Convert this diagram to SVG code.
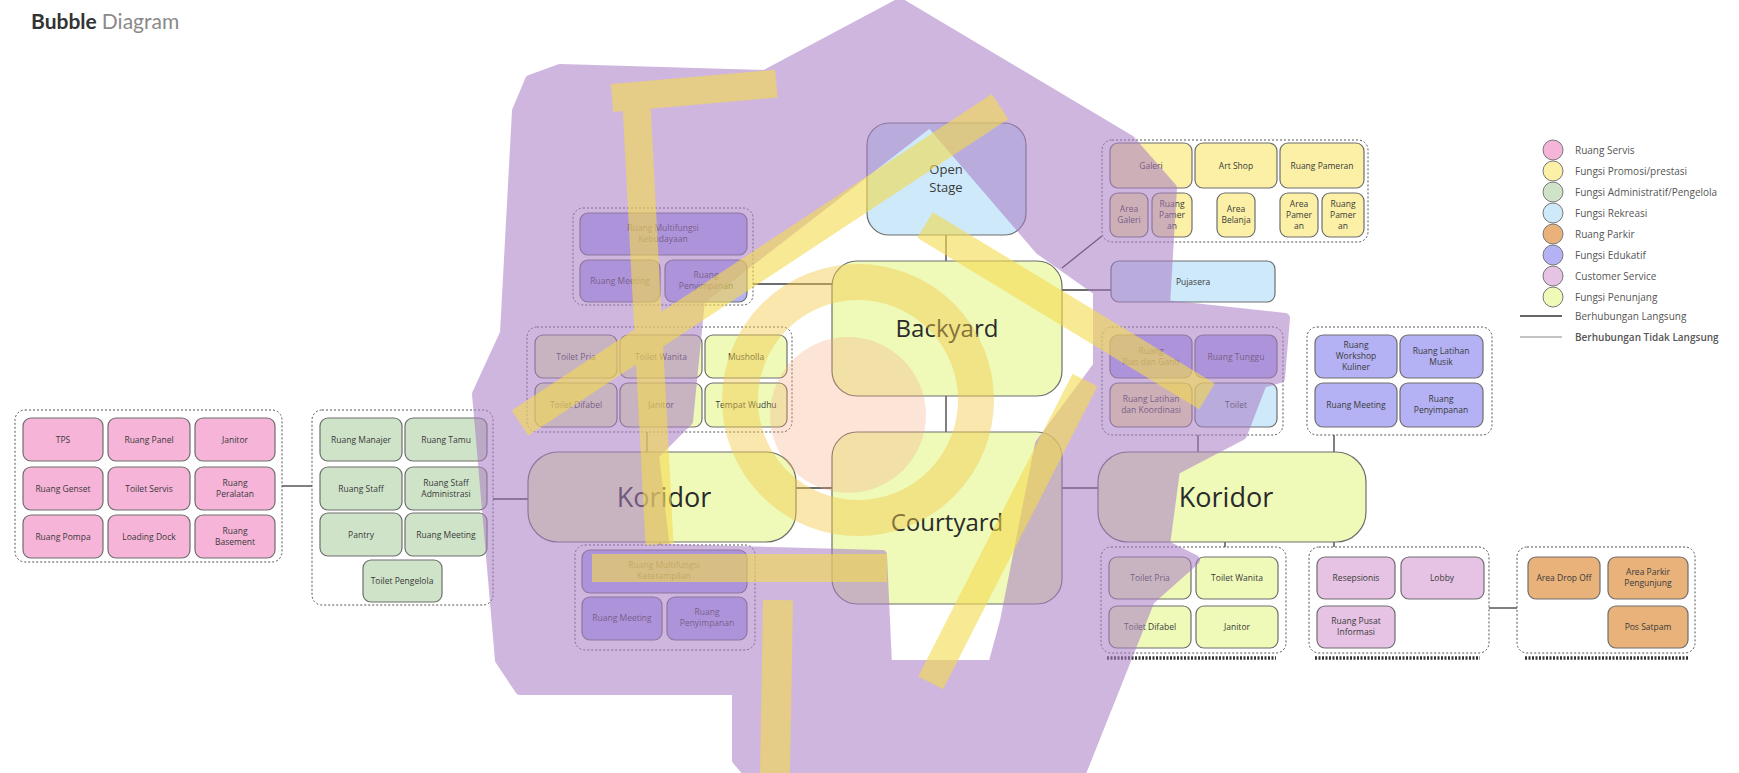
<svg xmlns="http://www.w3.org/2000/svg" width="1739" height="773" viewBox="0 0 1739 773">
<style>
text{font-family:"Open Sans","Liberation Sans",sans-serif;fill:#3a3a3a;text-anchor:middle}
.s{font-size:8.5px}
.big{font-size:27px;fill:#2a2a2a}
.mid{font-size:24px;fill:#2a2a2a}
.b{stroke:#6e6e6e;stroke-width:1.2}
.grp{fill:none;stroke:#555;stroke-width:1;stroke-dasharray:2 2}
.pk{fill:#f6b4d8}.ye{fill:#fbf0a6}.gr{fill:#cfe3c8}.bl{fill:#cde9fa}.or{fill:#e8b27a}
.vi{fill:#b4b2f4}.cs{fill:#e6c3e5}.pe{fill:#effab9}
.con{stroke:#3c3c3c;stroke-width:1.3;fill:none}
.dot{stroke:#333;stroke-width:3.5;stroke-dasharray:2 1.5}
.lg{font-size:10px;fill:#555;text-anchor:start}
.lc{stroke:#888;stroke-width:1}
</style>

<g id="title">
<text x="31" y="29" style="font-family:Lato,'Open Sans',sans-serif;font-size:21px;font-weight:700;fill:#333;text-anchor:start">Bubble <tspan style="font-weight:400;fill:#8a8a8a">Diagram</tspan></text>
</g>

<g id="connectors">
<line class="con" x1="282" y1="486" x2="312" y2="486"/>
<line class="con" x1="493" y1="499" x2="528" y2="499"/>
<line class="con" x1="753" y1="284" x2="832" y2="284"/>
<line class="con" x1="647" y1="432" x2="647" y2="452"/>
<line class="con" x1="660" y1="542" x2="660" y2="545"/>
<line class="con" x1="946" y1="235" x2="946" y2="261"/>
<line class="con" x1="946" y1="396" x2="946" y2="432"/>
<line class="con" x1="796" y1="488" x2="832" y2="488"/>
<line class="con" x1="1062" y1="488" x2="1098" y2="488"/>
<line class="con" x1="1062" y1="268" x2="1102" y2="236"/>
<line class="con" x1="1062" y1="290" x2="1111" y2="290"/>
<line class="con" x1="1198" y1="435" x2="1198" y2="452"/>
<line class="con" x1="1334" y1="435" x2="1334" y2="452"/>
<line class="con" x1="1225" y1="542" x2="1225" y2="547"/>
<line class="con" x1="1334" y1="542" x2="1334" y2="547"/>
<line class="con" x1="1489" y1="608" x2="1517" y2="608"/>
</g>

<g id="servis">
<rect class="grp" x="15" y="410" width="267" height="152" rx="10"/>
<rect class="b pk" x="23" y="418" width="80" height="43" rx="8"/><text class="s" x="63" y="443">TPS</text>
<rect class="b pk" x="108" y="418" width="82" height="43" rx="8"/><text class="s" x="149" y="443">Ruang Panel</text>
<rect class="b pk" x="195" y="418" width="80" height="43" rx="8"/><text class="s" x="235" y="443">Janitor</text>
<rect class="b pk" x="23" y="467" width="80" height="43" rx="8"/><text class="s" x="63" y="492">Ruang Genset</text>
<rect class="b pk" x="108" y="467" width="82" height="43" rx="8"/><text class="s" x="149" y="492">Toilet Servis</text>
<rect class="b pk" x="195" y="467" width="80" height="43" rx="8"/><text class="s" x="235" y="486">Ruang</text><text class="s" x="235" y="497">Peralatan</text>
<rect class="b pk" x="23" y="515" width="80" height="43" rx="8"/><text class="s" x="63" y="540">Ruang Pompa</text>
<rect class="b pk" x="108" y="515" width="82" height="43" rx="8"/><text class="s" x="149" y="540">Loading Dock</text>
<rect class="b pk" x="195" y="515" width="80" height="43" rx="8"/><text class="s" x="235" y="534">Ruang</text><text class="s" x="235" y="545">Basement</text>
</g>

<g id="pengelola">
<rect class="grp" x="312" y="410" width="181" height="195" rx="10"/>
<rect class="b gr" x="320" y="418" width="82" height="43" rx="8"/><text class="s" x="361" y="443">Ruang Manajer</text>
<rect class="b gr" x="405" y="418" width="82" height="43" rx="8"/><text class="s" x="446" y="443">Ruang Tamu</text>
<rect class="b gr" x="320" y="467" width="82" height="43" rx="8"/><text class="s" x="361" y="492">Ruang Staff</text>
<rect class="b gr" x="405" y="467" width="82" height="43" rx="8"/><text class="s" x="446" y="486">Ruang Staff</text><text class="s" x="446" y="497">Administrasi</text>
<rect class="b gr" x="320" y="513" width="82" height="43" rx="8"/><text class="s" x="361" y="538">Pantry</text>
<rect class="b gr" x="405" y="513" width="82" height="43" rx="8"/><text class="s" x="446" y="538">Ruang Meeting</text>
<rect class="b gr" x="363" y="560" width="79" height="42" rx="8"/><text class="s" x="402" y="584">Toilet Pengelola</text>
</g>

<g id="koridor-kiri">
<rect class="b pe" x="528" y="452" width="268" height="90" rx="30"/><text class="big" x="664" y="507">Koridor</text>
</g>

<g id="multifungsi-kebudayaan">
<rect class="grp" x="573" y="208" width="180" height="97" rx="10"/>
<rect class="b vi" x="580" y="213" width="167" height="42" rx="8"/><text class="s" x="663" y="231">Ruang Multifungsi</text><text class="s" x="663" y="242">Kebudayaan</text>
<rect class="b vi" x="580" y="260" width="80" height="42" rx="8"/><text class="s" x="620" y="284">Ruang Meeting</text>
<rect class="b vi" x="665" y="260" width="82" height="42" rx="8"/><text class="s" x="706" y="278">Ruang</text><text class="s" x="706" y="289">Penyimpanan</text>
</g>

<g id="toilet-kiri">
<rect class="grp" x="527" y="327" width="265" height="105" rx="10"/>
<rect class="b pe" x="535" y="335" width="82" height="43" rx="8"/><text class="s" x="576" y="360">Toilet Pria</text>
<rect class="b pe" x="620" y="335" width="82" height="43" rx="8"/><text class="s" x="661" y="360">Toilet Wanita</text>
<rect class="b pe" x="705" y="335" width="82" height="43" rx="8"/><text class="s" x="746" y="360">Musholla</text>
<rect class="b pe" x="535" y="383" width="82" height="44" rx="8"/><text class="s" x="576" y="408">Toilet Difabel</text>
<rect class="b pe" x="620" y="383" width="82" height="44" rx="8"/><text class="s" x="661" y="408">Janitor</text>
<rect class="b pe" x="705" y="383" width="82" height="44" rx="8"/><text class="s" x="746" y="408">Tempat Wudhu</text>
</g>

<g id="multifungsi-keterampilan">
<rect class="grp" x="575" y="545" width="180" height="105" rx="10"/>
<rect class="b vi" x="582" y="550" width="165" height="43" rx="8"/><text class="s" x="664" y="568">Ruang Multifungsi</text><text class="s" x="664" y="579">Keterampilan</text>
<rect class="b vi" x="582" y="597" width="80" height="43" rx="8"/><text class="s" x="622" y="621">Ruang Meeting</text>
<rect class="b vi" x="667" y="597" width="80" height="43" rx="8"/><text class="s" x="707" y="615">Ruang</text><text class="s" x="707" y="626">Penyimpanan</text>
</g>

<g id="open-stage">
<rect class="b bl" x="867" y="123" width="159" height="112" rx="22"/>
<text x="946" y="174" style="font-size:13px">Open</text><text x="946" y="192" style="font-size:13px">Stage</text>
</g>

<g id="backyard">
<rect class="b pe" x="832" y="261" width="230" height="135" rx="25"/><text class="mid" x="947" y="337">Backyard</text>
</g>

<g id="courtyard">
<rect class="b pe" x="832" y="432" width="230" height="172" rx="25"/><text class="mid" x="947" y="531">Courtyard</text>
</g>

<g id="koridor-kanan">
<rect class="b pe" x="1098" y="452" width="268" height="90" rx="30"/><text class="big" x="1226" y="507">Koridor</text>
</g>

<g id="promosi">
<rect class="grp" x="1102" y="140" width="266" height="102" rx="10"/>
<rect class="b ye" x="1110" y="143" width="82" height="45" rx="8"/><text class="s" x="1151" y="169">Galeri</text>
<rect class="b ye" x="1195" y="143" width="82" height="45" rx="8"/><text class="s" x="1236" y="169">Art Shop</text>
<rect class="b ye" x="1280" y="143" width="84" height="45" rx="8"/><text class="s" x="1322" y="169">Ruang Pameran</text>
<rect class="b ye" x="1110" y="193" width="38" height="44" rx="8"/><text class="s" x="1129" y="212">Area</text><text class="s" x="1129" y="223">Galeri</text>
<rect class="b ye" x="1152" y="193" width="40" height="44" rx="8"/><text class="s" x="1172" y="207">Ruang</text><text class="s" x="1172" y="218">Pamer</text><text class="s" x="1172" y="229">an</text>
<rect class="b ye" x="1217" y="193" width="38" height="44" rx="8"/><text class="s" x="1236" y="212">Area</text><text class="s" x="1236" y="223">Belanja</text>
<rect class="b ye" x="1280" y="193" width="38" height="44" rx="8"/><text class="s" x="1299" y="207">Area</text><text class="s" x="1299" y="218">Pamer</text><text class="s" x="1299" y="229">an</text>
<rect class="b ye" x="1322" y="193" width="42" height="44" rx="8"/><text class="s" x="1343" y="207">Ruang</text><text class="s" x="1343" y="218">Pamer</text><text class="s" x="1343" y="229">an</text>
</g>

<g id="pujasera">
<rect class="b bl" x="1111" y="261" width="164" height="41" rx="8"/><text class="s" x="1193" y="285">Pujasera</text>
</g>

<g id="pertunjukan">
<rect class="grp" x="1102" y="327" width="181" height="108" rx="10"/>
<rect class="b vi" x="1110" y="335" width="82" height="43" rx="8"/><text class="s" x="1151" y="354">Ruang</text><text class="s" x="1151" y="365">Rias dan Ganti</text>
<rect class="b vi" x="1195" y="335" width="82" height="43" rx="8"/><text class="s" x="1236" y="360">Ruang Tunggu</text>
<rect class="b ye" x="1110" y="383" width="82" height="44" rx="8"/><text class="s" x="1151" y="402">Ruang Latihan</text><text class="s" x="1151" y="413">dan Koordinasi</text>
<rect class="b bl" x="1195" y="383" width="82" height="44" rx="8"/><text class="s" x="1236" y="408">Toilet</text>
</g>

<g id="edukatif">
<rect class="grp" x="1307" y="327" width="185" height="108" rx="10"/>
<rect class="b vi" x="1315" y="335" width="82" height="43" rx="8"/><text class="s" x="1356" y="348">Ruang</text><text class="s" x="1356" y="359">Workshop</text><text class="s" x="1356" y="370">Kuliner</text>
<rect class="b vi" x="1400" y="335" width="83" height="43" rx="8"/><text class="s" x="1441" y="354">Ruang Latihan</text><text class="s" x="1441" y="365">Musik</text>
<rect class="b vi" x="1315" y="383" width="82" height="44" rx="8"/><text class="s" x="1356" y="408">Ruang Meeting</text>
<rect class="b vi" x="1400" y="383" width="83" height="44" rx="8"/><text class="s" x="1441" y="402">Ruang</text><text class="s" x="1441" y="413">Penyimpanan</text>
</g>

<g id="toilet-kanan">
<rect class="grp" x="1101" y="547" width="185" height="106" rx="10"/>
<rect class="b pe" x="1109" y="557" width="82" height="42" rx="8"/><text class="s" x="1150" y="581">Toilet Pria</text>
<rect class="b pe" x="1196" y="557" width="82" height="42" rx="8"/><text class="s" x="1237" y="581">Toilet Wanita</text>
<rect class="b pe" x="1109" y="606" width="82" height="42" rx="8"/><text class="s" x="1150" y="630">Toilet Difabel</text>
<rect class="b pe" x="1196" y="606" width="82" height="42" rx="8"/><text class="s" x="1237" y="630">Janitor</text>
<line class="dot" x1="1107" y1="658" x2="1276" y2="658"/>
</g>

<g id="customer-service">
<rect class="grp" x="1309" y="547" width="180" height="106" rx="10"/>
<rect class="b cs" x="1317" y="557" width="78" height="42" rx="8"/><text class="s" x="1356" y="581">Resepsionis</text>
<rect class="b cs" x="1401" y="557" width="83" height="42" rx="8"/><text class="s" x="1442" y="581">Lobby</text>
<rect class="b cs" x="1317" y="606" width="78" height="42" rx="8"/><text class="s" x="1356" y="624">Ruang Pusat</text><text class="s" x="1356" y="635">Informasi</text>
<line class="dot" x1="1315" y1="658" x2="1480" y2="658"/>
</g>

<g id="parkir">
<rect class="grp" x="1517" y="547" width="178" height="106" rx="10"/>
<rect class="b or" x="1528" y="557" width="72" height="42" rx="8"/><text class="s" x="1564" y="581">Area Drop Off</text>
<rect class="b or" x="1608" y="557" width="80" height="42" rx="8"/><text class="s" x="1648" y="575">Area Parkir</text><text class="s" x="1648" y="586">Pengunjung</text>
<rect class="b or" x="1608" y="606" width="80" height="42" rx="8"/><text class="s" x="1648" y="630">Pos Satpam</text>
<line class="dot" x1="1525" y1="658" x2="1688" y2="658"/>
</g>

<g id="watermark">
<g opacity="0.55" fill="#a97cc6" stroke="#a97cc6" stroke-width="10" stroke-linejoin="round">
<path fill-rule="evenodd" d="M900 3 L1130 140 L1172 188 L1165 305 L1285 318 L1280 378 L1262 383 L1242 435 L1175 470 L1165 545 L1195 560 L1150 600 L1081 773 L748 773 L737 760 L737 690 L520 690 L500 660 L477 394 L505 333 L517 111 L530 80 L560 69 L765 75 Z M930 122 L1040 250 L1098 291 L1098 366 L1040 444 L1005 621 L993 665 L887 665 L882 555 L665 549 L654 455 L688 421 L700 300 Z"/>
</g>
<g opacity="0.6" fill="#f4da4e">
<rect x="0" y="-15" width="575" height="30" transform="translate(520 423) rotate(-33.4)"/>
<rect x="0" y="-14" width="165" height="28" transform="translate(612 98) rotate(-5)"/>
<rect x="0" y="-14" width="450" height="28" transform="translate(636 95) rotate(87)"/>
<rect x="0" y="-14" width="295" height="28" transform="translate(592 568) rotate(0)"/>
<rect x="0" y="-15" width="330" height="30" transform="translate(925 225) rotate(31.3)"/>
<rect x="0" y="-14" width="340" height="28" transform="translate(1085 380) rotate(117)"/>
<rect x="0" y="-15" width="175" height="30" transform="translate(778 600) rotate(91)"/>
</g>
<circle cx="858" cy="400" r="118" fill="none" stroke="#f2c94c" stroke-width="36" opacity="0.45"/>
<circle cx="848" cy="415" r="78" fill="#f4a97a" opacity="0.3"/>
</g>

<g id="legend">
<circle cx="1553" cy="150" r="10" class="pk" stroke="#777"/><text class="lg" x="1575" y="154">Ruang Servis</text>
<circle cx="1553" cy="171" r="10" class="ye" stroke="#777"/><text class="lg" x="1575" y="175">Fungsi Promosi/prestasi</text>
<circle cx="1553" cy="192" r="10" class="gr" stroke="#777"/><text class="lg" x="1575" y="196">Fungsi Administratif/Pengelola</text>
<circle cx="1553" cy="213" r="10" class="bl" stroke="#777"/><text class="lg" x="1575" y="217">Fungsi Rekreasi</text>
<circle cx="1553" cy="234" r="10" class="or" stroke="#777"/><text class="lg" x="1575" y="238">Ruang Parkir</text>
<circle cx="1553" cy="255" r="10" class="vi" stroke="#777"/><text class="lg" x="1575" y="259">Fungsi Edukatif</text>
<circle cx="1553" cy="276" r="10" class="cs" stroke="#777"/><text class="lg" x="1575" y="280">Customer Service</text>
<circle cx="1553" cy="297" r="10" class="pe" stroke="#777"/><text class="lg" x="1575" y="301">Fungsi Penunjang</text>
<line x1="1520" y1="316" x2="1562" y2="316" stroke="#333" stroke-width="1.3"/><text class="lg" x="1575" y="320">Berhubungan Langsung</text>
<line x1="1520" y1="337" x2="1562" y2="337" class="lc"/><text class="lg" x="1575" y="341" style="font-weight:600">Berhubungan Tidak Langsung</text>
</g>
</svg>
